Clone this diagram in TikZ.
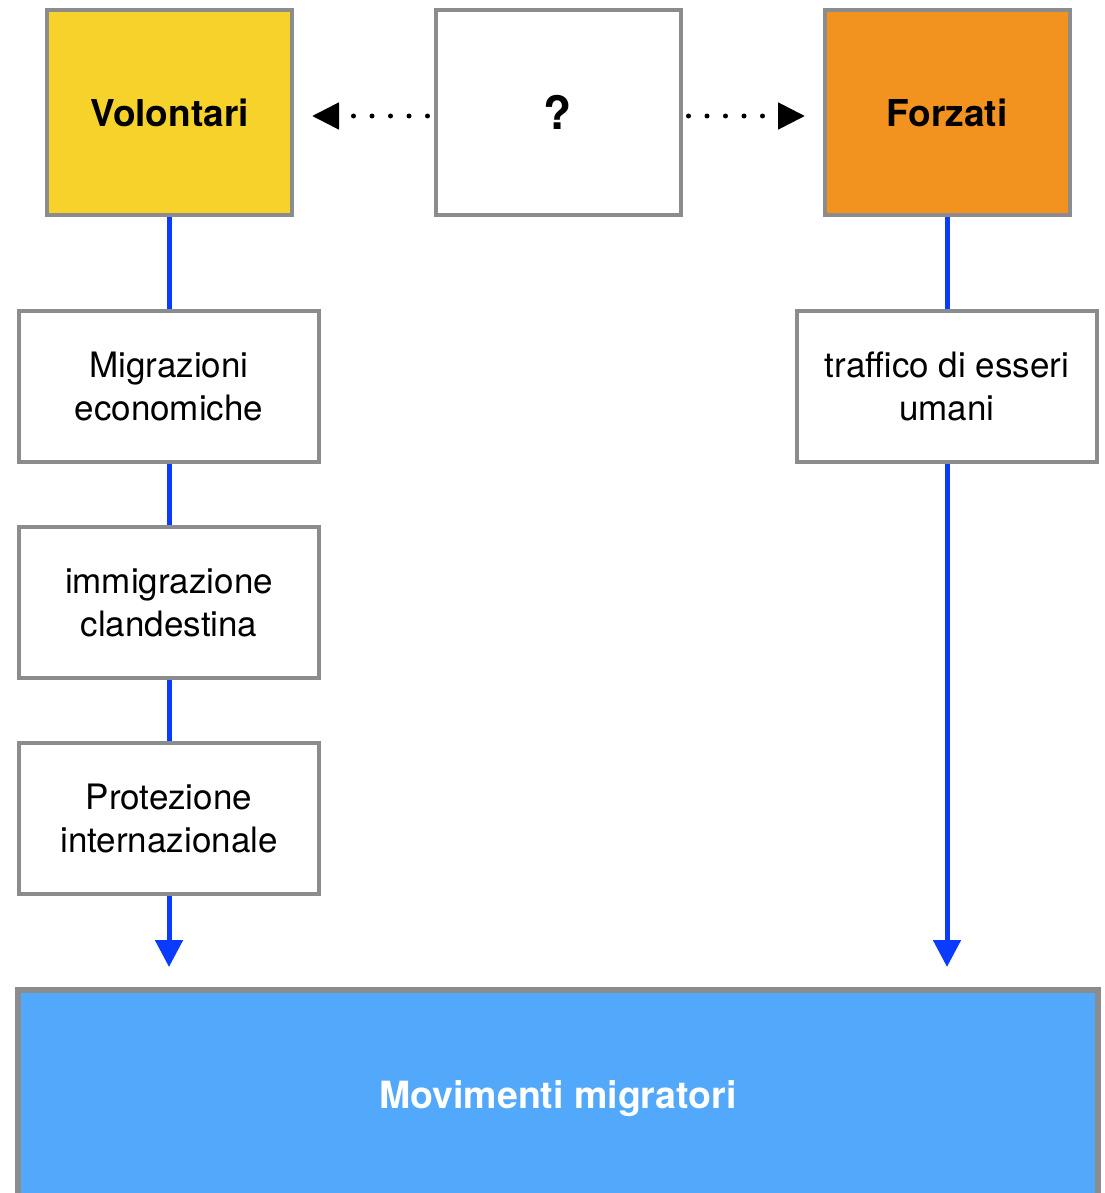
\documentclass[tikz,border=0pt]{standalone}
\usepackage{fontspec}
\setmainfont{TeX Gyre Heros}
\usetikzlibrary{arrows.meta}
\definecolor{boxgray}{HTML}{8B8C8E}
\definecolor{volyellow}{HTML}{F6D22B}
\definecolor{forzorange}{HTML}{F3931F}
\definecolor{movblue}{HTML}{52A8FA}
\definecolor{linkblue}{HTML}{0A3BFF}
\tikzset{
  topbox/.style={draw=boxgray, line width=4pt, minimum width=245pt, minimum height=205pt,
    inner sep=0pt, font=\fontsize{37}{43}\selectfont\bfseries},
  stepbox/.style={draw=boxgray, line width=4pt, fill=white, minimum width=300pt, minimum height=151pt,
    inner sep=0pt, align=center, font=\fontsize{35}{43}\selectfont},
  bigbox/.style={draw=boxgray, line width=6pt, fill=movblue, minimum width=1080pt, minimum height=218pt,
    inner sep=0pt, text=white, font=\fontsize{37.5}{43}\selectfont\bfseries},
  link/.style={draw=linkblue, line width=5pt},
  linkarrow/.style={link, -{Triangle[length=27pt,width=27pt]}, fill=linkblue},
  dotarrow/.style={draw=black, line width=5pt, line cap=round, dash pattern=on 0pt off 18.5pt,
    -{Triangle[length=27pt,width=26pt]}},
}
\begin{document}
\begin{tikzpicture}[x=1pt,y=-1pt]
\useasboundingbox (0,0) rectangle (1104,1193);
\clip (0,0) rectangle (1104,1193);
\fill[white] (0,0) rectangle (1104,1193);
% top row
\node[topbox, fill=volyellow] (vol) at (169.5,112.5) {\raisebox{-2pt}{Volontari}};
\node[topbox, fill=white] (q) at (558,112.5) {\fontsize{46}{50}\selectfont\raisebox{-3pt}{?}};
\node[topbox, fill=forzorange] (forz) at (947,112.5) {\raisebox{-2pt}{Forzati}};
% left column
\node[stepbox] (mig) at (169,386.5) {Migrazioni\\economiche};
\node[stepbox] (imm) at (169,602.5) {immigrazione\\clandestina};
\node[stepbox] (prot) at (169,818.5) {Protezione\\internazionale};
% right column
\node[stepbox] (traf) at (947,386.5) {traffico di esseri\\umani};
% bottom
\node[bigbox] (mov) at (558,1099) {Movimenti migratori};
% arrow tip coordinates
\coordinate (tipL) at (312,116);
\coordinate (tipR) at (805,116);
\coordinate (tipA) at (169,967);
\coordinate (tipB) at (947,967);
% dotted arrows
\draw[dotarrow, shorten <=6pt] ([yshift=-3.5pt]q.west) -- (tipL);
\draw[dotarrow, shorten <=6pt] ([yshift=-3.5pt]q.east) -- (tipR);
% blue connectors
\draw[link] (vol.south -| mig.north) -- (mig.north);
\draw[link] (mig.south) -- (imm.north);
\draw[link] (imm.south) -- (prot.north);
\draw[linkarrow] (prot.south) -- (tipA);
\draw[link] (forz.south) -- (traf.north);
\draw[linkarrow] (traf.south) -- (tipB);
\end{tikzpicture}
\end{document}
